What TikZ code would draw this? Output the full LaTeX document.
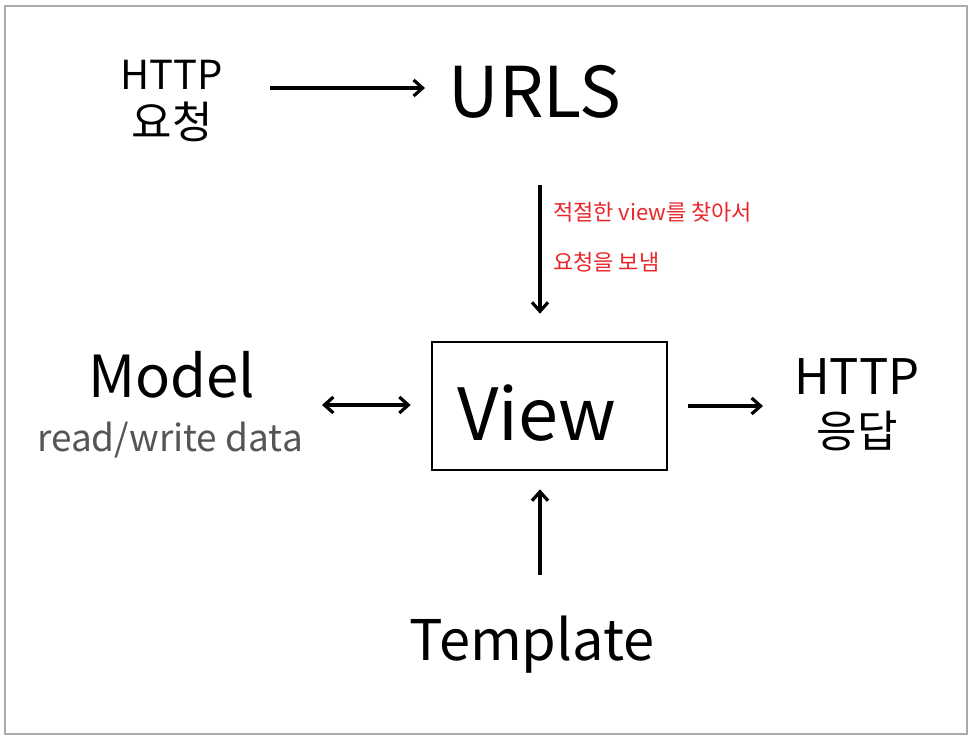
\documentclass[tikz,border=0pt]{standalone}
\usepackage{fontspec}
\setmainfont{Noto Sans CJK KR}
\usetikzlibrary{arrows.meta,calc}
\newcommand\myfs[1]{\fontsize{#1}{#1}\selectfont}
\definecolor{frameg}{HTML}{ABABAB}
\definecolor{notered}{HTML}{E8262A}
\definecolor{notegray}{HTML}{555555}
\begin{document}
\begin{tikzpicture}[x=1pt,y=-1pt,
  tip/.tip={Straight Barb[length=9pt,width=16pt]},
  arr/.style={line width=3.2pt,-tip},
  darr/.style={line width=3.2pt,tip-tip},
  txt/.style={inner sep=0pt,align=center},
  box/.style={draw,line width=2.6pt,minimum width=235pt,minimum height=128pt,inner sep=0pt},
  frame/.style={draw=frameg,line width=2pt}
]
\useasboundingbox (0,0) rectangle (975,739);
\draw[frame] (5,6) rectangle (967,734);

\node[txt] (req) at (172,101) {\myfs{40}HTTP\\[12pt]\myfs{44}요청};
\node[txt] (urls) at (535,92) {\myfs{70}URLS};
\node[box] (view) at (549.5,406) {};
\node[txt] (viewtext) at (537,413) {\myfs{72}View};
\node[txt] (model) at (172,375) {\myfs{58}Model};
\node[txt,text=notegray] (rw) at (170,440) {\myfs{37}read/write data};
\node[txt] (resp) at (857,405) {\myfs{49}HTTP\\[16pt]\myfs{44}응답};
\node[txt] (tmpl) at (532,645) {\myfs{56}Template};
\node[inner sep=0pt,anchor=north west,align=left,text=notered,
  font={\fontsize{22}{50}\selectfont}] (note) at (553,202)
  {적절한 view를 찾아서\\요청을 보냄};

\draw[arr] ($(req)+(98,-13)$) -- ($(urls)+(-110,-4)$);
\draw[arr] ($(urls)+(5,93)$) -- ($(view.north)+(-9.5,-27)$);
\draw[darr] ($(model)+(150,30)$) -- ($(view.west)+(-20,-1)$);
\draw[arr] ($(view.east)+(20,0)$) -- ($(resp)+(-94,1)$);
\draw[arr] ($(tmpl)+(8,-70)$) -- ($(view.south)+(-9.5,18)$);
\end{tikzpicture}
\end{document}
